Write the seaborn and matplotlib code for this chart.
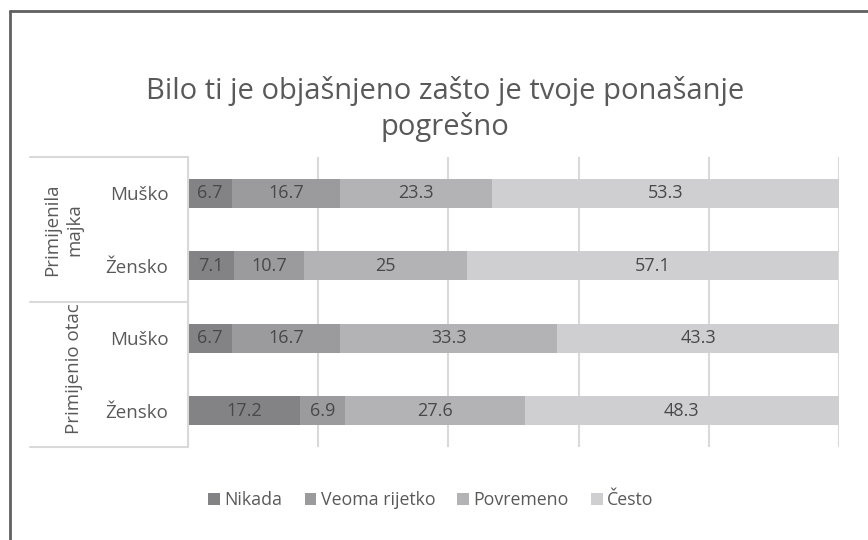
import matplotlib
matplotlib.use("Agg")
import matplotlib.pyplot as plt
import matplotlib.transforms as mtransforms
from matplotlib.lines import Line2D
from matplotlib.patches import Patch
import numpy as np
import pandas as pd
import seaborn as sns

# data
rows = ["majka_m", "majka_z", "otac_m", "otac_z"]
row_labels = ["Muško", "Žensko", "Muško", "Žensko"]
groups = ["Primijenila\nmajka", "Primijenio otac"]
answers = ["Nikada", "Veoma rijetko", "Povremeno", "Često"]
nikada = [6.7, 7.1, 6.7, 17.2]
veoma_rijetko = [16.7, 10.7, 16.7, 6.9]
povremeno = [23.3, 25, 33.3, 27.6]
cesto = [53.3, 57.1, 43.3, 48.3]

colors = ["#838385", "#9b9b9d", "#b3b3b5", "#cfcfd1"]
text_col = "#595959"

sns.set_theme(style="white")
plt.rcParams["font.family"] = ["Open Sans", "DejaVu Sans"]

df = pd.DataFrame({"row": rows, "Nikada": nikada, "Veoma rijetko": veoma_rijetko,
                   "Povremeno": povremeno, "Često": cesto})
cum = df[answers].cumsum(axis=1)
cum["row"] = rows

fig = plt.figure(figsize=(8.68, 5.40), dpi=100)
ax = fig.add_axes([188 / 868, 93 / 540, 651 / 868, 290 / 540])

# stacked bars: draw cumulative totals, longest first
for ans, col in reversed(list(zip(answers, colors))):
    sns.barplot(data=cum, x=ans, y="row", order=rows, orient="h", color=col,
                width=0.4, ax=ax, linewidth=0, saturation=1)

# segment labels
for i, r in enumerate(rows):
    left = 0
    for ans in answers:
        v = df.loc[i, ans]
        ax.text(left + v / 2, i, f"{v:g}", ha="center", va="center",
                fontsize=13, color="#484848")
        left += v

ax.set_xlim(0, 100)
ax.set_ylim(3.5, -0.5)
ax.set_xlabel("")
ax.set_ylabel("")
ax.set_xticks(np.arange(0, 101, 20))
ax.set_xticklabels([])
ax.xaxis.grid(True, color="#d9d9d9", linewidth=1.5)
ax.set_axisbelow(True)
ax.tick_params(axis="x", length=0)
for s in ["top", "right", "bottom"]:
    ax.spines[s].set_visible(False)
ax.spines["left"].set_color("#d9d9d9")
ax.spines["left"].set_linewidth(1.5)

ax.set_yticks(range(4))
ax.set_yticklabels(row_labels, fontsize=13.5, color=text_col)
ax.tick_params(axis="y", length=0, pad=14)

# group labels and separators on the left
tr = mtransforms.blended_transform_factory(fig.transFigure, ax.transData)
for yy in [-0.5, 1.5, 3.5]:
    fig.add_artist(Line2D([30 / 868, 188 / 868], [yy, yy], transform=tr,
                          color="#d9d9d9", linewidth=1.5))
fig.text(83 / 868, 0.5, groups[0], transform=tr, rotation=90, ha="right",
         va="center", fontsize=13.5, color=text_col, multialignment="center",
         linespacing=1.3)
fig.text(83 / 868, 2.42, groups[1], transform=tr, rotation=90, ha="right",
         va="center", fontsize=13.5, color=text_col)

# title
fig.text(445 / 868, 1 - 109 / 540,
         "Bilo ti je objašnjeno zašto je tvoje ponašanje\npogrešno",
         ha="center", va="center", fontsize=21, color=text_col, linespacing=1.3)

# legend
handles = [Patch(facecolor=c, edgecolor="none") for c in colors]
fig.legend(handles, answers, loc="center", bbox_to_anchor=(431 / 868, 1 - 500 / 540),
           ncol=4, frameon=False, fontsize=12.8, handlelength=0.65, handleheight=0.65,
           handletextpad=0.25, columnspacing=1.25, labelcolor=text_col)

# chart border (top and left edges visible)
fig.add_artist(Line2D([9.5 / 868, 1], [1 - 11 / 540, 1 - 11 / 540],
                      transform=fig.transFigure, color="#606060", linewidth=2))
fig.add_artist(Line2D([9.5 / 868, 9.5 / 868], [0, 1 - 11 / 540],
                      transform=fig.transFigure, color="#606060", linewidth=2))

fig.savefig("out.png", dpi=100)
